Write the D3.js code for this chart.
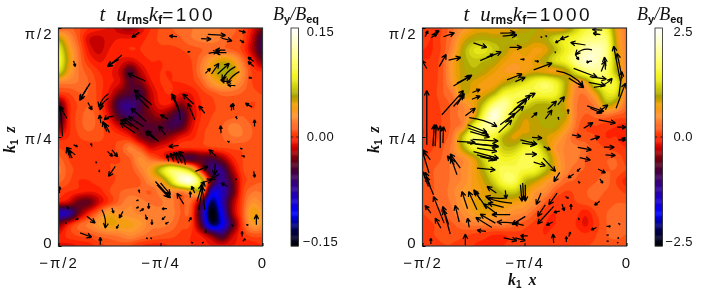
<!DOCTYPE html>
<html>
<head>
<meta charset="utf-8">
<script src="https://cdn.jsdelivr.net/npm/d3@7"></script>
<style>
  html, body { margin: 0; padding: 0; background: #fff; }
  svg { display: block; filter: blur(0.25px); }
  text { font-family: "Liberation Sans", sans-serif; fill: #111; }
  .it { font-family: "Liberation Serif", serif; font-style: italic; }
  .sub { font-family: "Liberation Sans", sans-serif; font-weight: bold; }
</style>
</head>
<body>
<svg id="chart" width="727" height="290"></svg>
<script>
// axis positions are percent of the axis span, so 50 is pi/4
const xTickValues = [0, 50, 100];
const xTickLabels = ['\u2212\u03c0/2', '\u2212\u03c0/4', '0'];
const zTickValues = [0, 50, 100];
const zTickLabels = ['0', '\u03c0/4', '\u03c0/2'];

const earlyTime = '100';
const lateTime = '1000';
const earlyLimit = 0.15;
const lateLimit = 2.5;
const earlyBarLabels = ['\u22120.15', '0.00', '0.15'];
const lateBarLabels = ['\u22122.5', '0.0', '2.5'];

// B_y on a 21x21 lattice, percent of the colour bar limit, top row first
const fieldEarly = [
  [8,10,5,0,-3,-5,-12,-15,-8,0,5,8,10,12,15,15,12,10,5,-5,-20],
  [38,20,6,-8,-10,-6,-4,-4,-2,2,5,6,8,12,14,15,12,8,5,-10,-35],
  [55,28,10,-5,-10,-4,-2,0,0,2,3,3,4,6,8,10,10,8,3,-12,-35],
  [60,32,12,0,-5,-2,-5,-8,-3,0,0,2,3,4,12,24,32,28,12,-2,-20],
  [50,26,12,6,0,-3,-10,-28,-12,-2,0,0,2,3,14,28,40,38,18,3,0],
  [15,14,12,8,2,-3,-8,-25,-20,-6,0,0,0,2,8,20,28,24,14,4,3],
  [2,4,8,8,2,-6,-20,-28,-32,-12,-2,0,-5,-4,2,6,10,10,8,5,4],
  [-25,-2,5,8,2,-12,-38,-42,-32,-14,-4,-5,-18,-8,0,3,6,6,5,4,5],
  [-35,-3,6,10,5,-8,-30,-38,-28,-20,-14,-25,-35,-12,0,4,5,6,8,5,5],
  [-22,-2,6,10,6,0,-10,-20,-25,-26,-26,-33,-28,-8,2,5,8,14,12,8,5],
  [-3,0,4,6,5,3,2,-3,-18,-25,-22,-15,-6,-2,3,6,8,12,12,8,5],
  [4,2,2,2,3,3,6,14,6,-8,-5,-2,0,0,1,3,4,5,5,5,5],
  [10,4,2,2,3,4,4,8,18,10,3,-8,-25,-30,-25,-30,-18,-3,4,6,6],
  [14,6,3,2,3,4,5,6,14,25,45,65,60,38,-5,-40,-42,-14,3,8,8],
  [10,5,0,0,2,3,5,5,8,18,25,50,85,92,45,-20,-45,-25,0,6,8],
  [2,0,-2,-4,-2,4,8,10,10,8,15,18,14,25,30,-55,-55,-28,2,12,12],
  [-6,-10,-22,-22,-8,2,10,16,14,12,12,14,8,8,-25,-85,-55,-18,4,20,16],
  [-55,-50,-20,-2,12,25,20,18,16,14,14,15,8,5,-40,-100,-65,-18,5,28,22],
  [-20,-4,8,14,22,30,28,26,22,14,14,12,6,3,-30,-85,-70,-30,2,22,20],
  [-4,2,5,6,10,12,14,18,14,10,8,6,3,0,-5,-20,-35,-12,0,6,6],
  [-5,-6,-4,-2,2,5,6,4,0,-2,-2,0,0,0,-2,-4,-6,-4,-4,-3,0]
];

const fieldLate = [
  [3,0,5,12,20,28,30,28,28,30,35,38,32,28,30,45,60,65,60,28,14],
  [2,0,6,14,30,38,40,38,38,42,40,36,38,48,55,60,70,72,70,32,14],
  [0,0,6,18,38,50,52,45,38,30,32,28,30,42,55,66,82,85,75,35,15],
  [0,1,8,24,38,44,42,38,30,26,28,30,38,50,58,75,88,85,72,38,15],
  [0,2,8,25,36,40,36,30,25,24,28,32,30,28,34,52,68,75,68,40,16],
  [0,2,8,22,36,32,28,26,34,42,50,60,66,58,40,22,28,55,62,55,18],
  [0,2,8,14,34,30,30,40,58,62,65,60,62,58,38,16,14,30,52,50,12],
  [0,1,6,10,18,28,45,70,78,60,50,42,40,42,32,14,10,16,38,30,10],
  [0,1,5,10,16,26,62,92,72,50,36,38,38,38,36,14,8,10,12,8,6],
  [0,1,5,10,18,55,75,78,62,40,32,36,38,38,28,12,4,4,2,0,-2],
  [0,2,6,14,45,68,62,58,40,32,36,36,34,28,18,8,6,4,0,0,-2],
  [2,4,8,16,38,58,62,58,44,44,56,58,40,22,16,14,10,6,4,2,0],
  [3,6,9,14,18,30,48,60,56,58,66,62,50,28,16,14,8,6,8,8,2],
  [4,8,10,14,18,26,40,58,65,64,62,58,44,28,16,10,8,6,8,8,4],
  [4,8,10,14,18,26,34,48,65,66,44,36,26,18,10,8,6,8,10,4,-2],
  [4,8,10,16,22,26,30,36,44,46,34,22,18,8,4,5,8,10,8,6,3],
  [4,8,10,14,22,28,34,32,30,28,24,18,8,2,4,4,6,8,6,8,8],
  [4,6,8,12,18,24,30,26,22,18,16,8,2,0,4,2,-3,4,8,12,10],
  [3,4,6,8,12,14,14,14,14,10,6,3,0,0,4,0,-5,2,8,12,12],
  [3,4,5,5,5,3,2,0,0,2,3,2,0,2,4,3,1,4,8,10,8],
  [3,3,4,4,3,0,-1,-2,0,2,2,0,2,3,4,4,4,5,6,6,5]
];

// flow arrows: x, z, u, w and an optional bend, all in percent of the axis span
const arrowsEarly = [
  [39.6,98,-3.6,-2.3],[58.1,96,-3.8,.3],[73.2,97.1,8.7,-.5],[69.9,95.1,4.9,-.2],[80,95.3,5.1,-1.2],
  [88.4,98.8,3.3,-.8],[88.9,94.5,2,-1.2],[64.6,89.2,-1.3,-.3],[73.6,88.4,4.1,.8],[81.8,89.9,-4.9,0],
  [82.3,88.7,-5.4,0],[78.6,87.6,-.8,2.6],[31.1,87.6,-7,-5.3],[29.5,85.6,-5.4,-3.1],[42.6,75.7,-8.7,3.5],
  [7.4,84.9,.8,-2.6],[15.5,74.7,-5.2,-7.9],[14.2,72.8,-3.6,-5.5],[45.8,64.7,-8.7,6.9],[44.2,63.2,-6.5,6.1],
  [24.5,69.8,-4.6,-6.1,-1.5],[24.5,67.8,-4.1,-5.3,-1.5],[14.4,65.8,2,-3.4],[4.1,58.6,-3.6,5.6],[2,50.2,-1.1,13.7],
  [20.8,56.3,-.7,3.8],[27,59.4,-4.6,-1.5,-1],[23.7,52.5,-2,4.6],[25,52,-2.3,4.3],[43,57.1,-7.5,6.1],
  [41.7,54.8,-7.4,4.6],[39.3,53.3,-7.4,5.3],[37.6,51.8,-7.4,4.6],[36,54.8,-5.7,3.1],[49.1,47.9,-5.7,5],
  [47.5,48.7,-4.9,3.8],[53.7,58.2,-3.8,2],[59.7,57.9,-4.4,11.9,-2],[58.9,62.4,-3.3,6.9],[66.8,57.9,-3.4,7.6],
  [66.3,65,-5.4,4.7],[71.7,60.9,-2.9,3.4],[52.4,51,-3.3,4.1],[72,79.2,2.5,2.3],[75,78.9,3.6,4.9],
  [78,78.9,5.7,4.9],[86.7,82.3,-6.5,-6.1,-1.5],[88.7,80,-6,-5.6,-1.5],[84.3,75,-4.9,1.2],[86.7,73.6,-3.8,.3],
  [94.9,77,-1.6,.3],[95.7,84.6,-2.8,2],[95.7,82.3,-2.8,2.3],[85.9,62.4,-.5,3.1],[84.8,62.1,0,3],
  [94.9,63.7,-3.3,1.8],[87.6,58.2,-.7,1.2],[96.1,54.8,0,3.1],[79.7,51.8,-.3,3.4],[8.2,41.8,-4.4,3.4],
  [5.7,40.3,-1.6,4.6],[6.7,40.3,-1.8,3.4],[7.4,46.4,2,-.8],[16.4,45.6,-.5,1.5],[24,43.4,2.5,-2.3],
  [26.2,44.1,2.8,-3.1],[27.8,36.5,-3.3,-4.6],[.5,24.3,0,3],[21.3,16.6,1.6,-8.4,1.5],[13.9,13.6,4.1,-3.1],
  [31.6,15.9,-1.8,-3.1],[29.5,9.8,-1.1,-1.8],[26.2,17.4,.8,-2.3],[10.6,6,5.7,-2],[20.5,.6,0,3.4],
  [39.8,24.3,-.5,1.5],[38.1,20.8,1.1,.2],[38,17.4,1.3,.5],[44.2,19.7,0,-2.6],[39.8,15.9,2,1.2],
  [42.6,14.4,.8,-2.3],[45.8,12.1,0,-2.3],[47.5,29.6,7.4,-7.6],[48.3,28.1,5.7,-5.8],[50,28.9,4.9,-5.3],
  [58.9,46.1,-4.9,-.5],[54,38.8,-.8,3.1],[56.5,38.8,-1.6,3.8],[58.9,38,-2.5,5],[62.2,37.3,-3.3,6.1,-1.5],
  [60.6,38,-2.9,5],[77.3,41.1,-3.6,3.1],[67.1,34.2,6.2,2.3],[76.8,37.8,-.3,-5.3],[78.9,33,-4.4,-2.6],
  [83,27.3,-3.3,1.5],[68.7,16.6,2.5,13],[71.7,16.6,-1.3,10.7],[67.9,20.5,2.5,7.6],[69.6,28.9,5.7,1.5],
  [64.6,22.3,0,2.7],[61.4,19.2,-3.3,5],[66.8,24.3,-1.6,3.1],[63.8,11.3,1.3,1.8],[53.2,17.1,-2.5,0],
  [52.4,13.6,-1.6,-1.5],[54,11,-1.6,-.9],[82.7,48.2,1.1,-.6],[89,44.9,1.1,-.5],[89.7,41.5,1.6,-.6],
  [95.7,34.2,.5,-2.7],[86.7,31.1,.5,-.8],[84.8,10.1,.8,-1.1],[90,4.4,0,2.3],[90.3,2.1,1.3,1.2],
  [92,9.8,1,-.3],[97,9.8,0,4.6],[72.3,7.5,-.3,-1.5],[65,1.8,.8,-.5],[71.2,1.8,-.8,-.5],
  [42.9,3.7,.8,-.3],[45,3.7,.8,-.3],[8.2,12.1,1.6,.5],[4.1,10.5,-.8,0],[4.1,18.5,.8,-1.5],
  [18.3,38.8,.3,-.8],[20,35,0,-1]
];

const arrowsLate = [
  [1.3,96,1.3,2.7],[4.6,96.8,3.6,2],[4.2,95.5,2.9,1.8],[10.3,96,5.4,1.8],[38.1,97.6,7.4,.3],
  [39.3,96.3,7,.5],[25,93.2,6.5,-2.1],[28.3,85,10.3,4.1],[31.5,86.5,3.3,1.5],[42.7,91.1,6,0],
  [8.2,82.3,3.4,5.6],[12.8,85.3,6,1.2],[15.2,73.4,9,5],[16.9,74.7,6.5,3.1],[9.5,60.2,10.6,11.1],
  [15.2,64,4.9,5.3],[16.9,64.7,3.6,5.3],[24.5,70.4,3.8,1.5],[24.2,67.3,4.1,1.5],[21,59.8,4.9,3.4],
  [2.1,46.4,0,24.9],[2.1,81.4,-2.4,3.8],[22.9,58.9,13.6,-4.1,1.5],[22.1,55.6,9.5,-3.5],[22.5,54,9.8,-3.1],
  [23.4,52.5,9.5,-2.6],[37.3,52,6.5,5.8],[38.1,55.6,7.4,5.3],[40.6,56.6,9,7.6],[42.2,60.2,9,6.9],
  [44.7,62.4,8.2,6.9],[46.3,65.5,9,4.6],[41.4,76.2,7.4,2.7],[45.5,75.4,4.9,2],[54.5,80.8,9,3.1],
  [65.6,80.3,13.1,-6.9,3],[71.7,77,7.4,-4.3],[74.1,81.5,11.5,-4.1],[82,77.7,8.2,-1.2],[84,72.8,9,4.1,-2],
  [81.5,75.1,8.2,-1.5],[94.9,63.2,4.6,11.5],[97,75.7,-3.3,16],[97.9,76.9,-2.5,11.5],[96.2,68.5,1.6,11.5],
  [79.9,92.2,-7.4,1.1],[88.1,99,-4.9,.3],[87.2,97,-3.6,.6],[71.6,96.3,-4.1,-1.5],[67.6,94.5,-2.5,-1.2],
  [57.8,96,.8,-.3],[60.2,96.5,.8,-.4],[65.1,88.4,0,.8],[48,85.6,2,0],[55,84.9,2,-.3],
  [83.1,90,-8.2,-2.3,-2.5],[75,87.7,1.6,-2.3],[83.1,84.7,-2.5,-.8,-1],[89.7,80.9,-.5,5.8],[87.6,80,2.1,5],
  [80.7,64.3,8.2,-2.6],[82.3,63.2,5.7,-2.3],[85.3,60.9,5.6,3.8],[86.4,57.9,8.2,-1.5],[79,54,4.6,2.6],
  [60.2,58.3,3.3,4.1],[66.3,64.7,3.3,3.8],[61.4,62.7,4.3,3.8],[53.4,58.9,2.8,2.3],[66.8,57.9,-.3,1.2],
  [71.4,60.6,0,2.1],[95.4,54.5,4.4,0],[97.5,49.5,2,0],[96,48.7,3.6,0],[48,48.7,8.2,-2],
  [48.8,47.2,6.5,-.8],[53.7,49.8,4.9,-.3],[50.4,42.1,5.7,0],[54.5,38.5,5.7,-1.7],[59.1,40.3,6.1,-6.1],
  [59.4,45.6,3.3,-1.5],[73.3,51,4.4,-.8],[82.3,48.7,4.6,1.5],[76.1,45.2,6.7,-1.1],[77.1,40.5,5.2,-1.1],
  [88.9,45.3,5.2,0],[89.7,41.8,4.9,-.3],[86.1,35.3,3.6,-1.8],[86.9,30.8,1.5,-2],[67.3,33.8,-2.9,-4.3],
  [74.1,33,-2.8,-1.8],[77.4,35.7,-1.6,-1.5],[76.3,29.8,.8,-1],[58.1,24.3,-2.3,-5.3],[66,24.3,-4.1,-5.3],
  [60.2,18.9,-3.8,-5.3],[64.3,18.2,-7.9,-8.1],[70,22.7,1.6,-.8],[68.4,19.2,1.1,-3.1],[67.3,16,-2.9,-.6],
  [72.8,16.6,0,2.6],[86.9,20.5,-2.6,-1.8],[76.4,13,.4,-1],[63.8,11,-3.1,-1.5],[85.3,8.5,-2.6,-1.1],
  [90.2,9,2,0],[96,10.5,.8,-.7],[90.2,5,1,0],[90.2,2.2,1,0],[95.5,3.5,.8,.3],
  [96,1.8,-.5,-.5],[64.3,1.4,-.3,4.1],[70.5,1.8,0,2.6],[71.7,4.4,.8,2],[51.6,4.7,-3.6,0],
  [5.1,45.8,.7,9.9],[6.2,45.8,.5,9.9],[8.7,44.9,0,10.2],[10,47.2,.3,7.6],[3.2,33.5,-3.2,9.9],
  [2.9,27.3,-2.9,6.9],[3.8,27.3,-2.5,6.6],[5.4,23.5,-3.8,8.4],[3.8,39.5,-3.6,4.6],[4.1,15.1,-2.8,3.5],
  [9,8.2,-2.8,4.6],[10.6,10.5,-5.2,12.2],[13.6,5.5,-3.3,11.1],[12.8,9.8,-2.9,8.4],[18,11,-2,7.6],
  [4.1,.9,0,2.7],[21,.3,0,5.2],[22.9,8.5,-.8,4.3],[22.1,17.1,-2.8,7.9],[26.7,16.6,-4.1,8.4],
  [31.6,17.1,-6.5,8.7],[28.3,21.2,-2.5,3.8],[36.2,24.3,-4.6,3],[40.6,22,-9.8,.8,1],[40.6,25.5,.4,-3.8],
  [43.9,19.7,-11.8,2.3,1],[39.8,17.7,-7.7,2],[36.5,14.7,-6.5,4.6],[43,14.4,-9,0],[35.7,10.5,-7.4,4.1],
  [34,8.5,-7.9,4.6],[31.1,6.7,-4.4,.5],[47.1,10.5,-10.6,.5],[50.4,13.6,-6.5,-3.8],[49.6,9.5,-4.9,1.1],
  [39.8,3.7,6.5,-1.2],[45.5,3.7,4.9,-1.2],[49.1,28.9,.5,-7.6],[48,28.1,.8,-7.6],[50.4,28.1,0,-7.6],
  [16.9,48,9,-.5],[21.8,47.3,14.7,-1.5],[24.5,48.9,12.6,-.8],[25.9,46.7,11.5,-1.1],[26.7,44.9,9.8,-1.5],
  [25,43.3,12.3,-3.1],[26.7,41.8,9.8,-2.3],[28.3,41,6.5,-1.5],[26.7,35.7,9,-.8],[18.5,35.7,-4.9,6.6],
  [15.6,37.3,-3.4,4.1],[16.9,32.7,-2.9,7.6]
];

// colour table of the bar, stops given in percent of the limit
const colorStops = [-100,-85,-70,-55,-42,-30,-20,-10,-2,5,13,22,30,38,46,56,70,85,100];
const colorValues = ['#000000','#000050','#0000ff','#2000c0','#380080','#480038','#700010','#c80000',
  '#ff2000','#ff4a10','#ff7a30','#ff9a30','#f0a000','#a8a000','#d0d010','#f4f420','#ffff70','#ffffc0','#ffffff'];

const svg = d3.select('#chart');
const plotW = 204, plotH = 218, plotTop = 28;
const color = d3.scaleLinear().domain(colorStops).range(colorValues).clamp(true);
const x = d3.scaleLinear().domain([0, 100]).range([0, plotW]);
const z = d3.scaleLinear().domain([0, 100]).range([plotH, 0]);

// Catmull-Rom, the lattice is too coarse to contour as it stands
function cubic(a, b, c, d, t) {
  return 0.5 * (2 * b + (c - a) * t + (2 * a - 5 * b + 4 * c - d) * t * t + (3 * b - a - 3 * c + d) * t * t * t);
}

function upsample(rows, factor) {
  const nr = rows.length, nc = rows[0].length;
  const w = (nc - 1) * factor + 1, h = (nr - 1) * factor + 1;
  const at = (r, c) => rows[Math.max(0, Math.min(nr - 1, r))][Math.max(0, Math.min(nc - 1, c))];
  const values = new Array(w * h);
  for (let j = 0; j < h; j++) {
    const r = Math.min(Math.floor(j / factor), nr - 2), tr = j / factor - r;
    for (let i = 0; i < w; i++) {
      const c = Math.min(Math.floor(i / factor), nc - 2), tc = i / factor - c;
      const col = [-1, 0, 1, 2].map(k =>
        cubic(at(r + k, c - 1), at(r + k, c), at(r + k, c + 1), at(r + k, c + 2), tc));
      values[j * w + i] = Math.max(-100, Math.min(100, cubic(col[0], col[1], col[2], col[3], tr)));
    }
  }
  return { values, w, h };
}

function drawField(g, rows, clipId) {
  const grid = upsample(rows, 6);
  const step = 200 / 48;
  const levels = d3.range(-100, 100, step);
  const contours = d3.contours().size([grid.w, grid.h]).thresholds(levels)(grid.values);
  const path = d3.geoPath(d3.geoTransform({
    point(px, py) {
      this.stream.point(x((px - 0.5) / (grid.w - 1) * 100), z(100 - (py - 0.5) / (grid.h - 1) * 100));
    }
  }));
  g.append('clipPath').attr('id', clipId)
    .append('rect').attr('width', plotW).attr('height', plotH);
  g.append('g').attr('clip-path', `url(#${clipId})`)
    .selectAll('path').data(contours).join('path')
    .attr('d', path)
    .attr('fill', d => color(d.value + step / 2))
    .attr('stroke', d => color(d.value + step / 2))
    .attr('stroke-width', 0.3);
}

function arrowPath(a) {
  const x0 = x(a[0]), y0 = z(a[1]), x1 = x(a[0] + a[2]), y1 = z(a[1] + a[3]);
  const dx = x1 - x0, dy = y1 - y0, len = Math.hypot(dx, dy) || 1;
  const bend = (a[4] || 0) * plotW / 100;
  const cx = (x0 + x1) / 2 + bend * dy / len, cy = (y0 + y1) / 2 - bend * dx / len;
  const p = d3.path();
  p.moveTo(x0, y0);
  p.quadraticCurveTo(cx, cy, x1, y1);
  // head follows the end of the curve
  const ang = Math.atan2(y1 - cy, x1 - cx);
  const hl = Math.min(5.5, 0.5 * len);
  [-0.45, 0.45].forEach(s => {
    p.moveTo(x1, y1);
    p.lineTo(x1 - hl * Math.cos(ang + s), y1 - hl * Math.sin(ang + s));
  });
  return p.toString();
}

function drawPanel(opts) {
  const g = svg.append('g').attr('transform', `translate(${opts.left},${plotTop})`);
  drawField(g, opts.field, opts.id);

  g.append('g').attr('clip-path', `url(#${opts.id})`)
    .selectAll('path').data(opts.arrows).join('path')
    .attr('d', arrowPath)
    .attr('fill', 'none')
    .attr('stroke', '#000')
    .attr('stroke-width', 1.25);

  g.append('rect').attr('width', plotW).attr('height', plotH)
    .attr('fill', 'none').attr('stroke', '#333').attr('stroke-width', 1.2);

  const bottom = g.append('g').attr('transform', `translate(0,${plotH})`)
    .call(d3.axisBottom(x).tickValues(xTickValues).tickFormat((d, i) => xTickLabels[i]).tickSize(-3));
  bottom.select('.domain').remove();
  bottom.selectAll('text').attr('y', 22).attr('dy', 0)
    .attr('font-size', 15).attr('letter-spacing', 2).attr('text-anchor', 'middle');

  const side = g.append('g')
    .call(d3.axisLeft(z).tickValues(zTickValues).tickFormat((d, i) => zTickLabels[i]).tickSize(-3));
  side.select('.domain').remove();
  side.selectAll('text').attr('x', -5).attr('dy', 0)
    .attr('y', d => d === 0 ? 1 : d === 50 ? 6 : 10)
    .attr('font-size', 15).attr('letter-spacing', 2).attr('text-anchor', 'end');

  // title: t u_rms k_f = value
  const title = svg.append('text').attr('x', opts.left + 41).attr('y', 20.5).attr('font-size', 21);
  title.append('tspan').attr('class', 'it').text('t');
  title.append('tspan').attr('class', 'it').attr('dx', 11).text('u');
  title.append('tspan').attr('class', 'sub').attr('font-size', 12).attr('dy', 3).text('rms');
  title.append('tspan').attr('class', 'it').attr('dy', -3).text('k');
  title.append('tspan').attr('class', 'sub').attr('font-size', 12).attr('dy', 3).text('f');
  title.append('tspan').attr('dy', -3).attr('font-size', 19).attr('letter-spacing', 2.5).text('=' + opts.time);

  // k1 z on the side
  const zLabel = svg.append('text')
    .attr('transform', `translate(${opts.left - 44},153) rotate(-90)`)
    .attr('font-size', 16).attr('font-weight', 'bold');
  zLabel.append('tspan').attr('class', 'it').text('k');
  zLabel.append('tspan').attr('class', 'sub').attr('font-size', 10).attr('dy', 3).text('1');
  zLabel.append('tspan').attr('class', 'it').attr('dy', -3).attr('dx', 7).text('z');

  // colour bar
  const barScale = d3.scaleLinear().domain([-opts.limit, opts.limit]).range([plotH, 0]);
  const bar = svg.append('g').attr('transform', `translate(${opts.barLeft},${plotTop})`);
  const barSteps = d3.range(-100, 100, 1);
  bar.selectAll('rect').data(barSteps).join('rect')
    .attr('x', 0).attr('width', 7.5)
    .attr('y', d => barScale((d + 1) / 100 * opts.limit))
    .attr('height', plotH / barSteps.length + 0.4)
    .attr('fill', d => color(d + 0.5));
  bar.append('rect').attr('width', 7.5).attr('height', plotH)
    .attr('fill', 'none').attr('stroke', '#222').attr('stroke-width', 0.8);
  bar.append('line').attr('x1', 0).attr('x2', 2)
    .attr('y1', barScale(0)).attr('y2', barScale(0)).attr('stroke', '#222');
  bar.append('line').attr('x1', 5.5).attr('x2', 7.5)
    .attr('y1', barScale(0)).attr('y2', barScale(0)).attr('stroke', '#222');

  [-1, 0, 1].forEach((s, i) => {
    bar.append('text')
      .attr('x', opts.barTextX)
      .attr('y', barScale(s * opts.limit) + [0, 4, 8][i])
      .attr('text-anchor', opts.barAnchor)
      .attr('font-size', 13)
      .attr('letter-spacing', 0.5)
      .text(opts.barLabels[i]);
  });

  const barTitle = svg.append('text').attr('x', opts.barLeft - 18).attr('y', 20).attr('font-size', 18);
  barTitle.append('tspan').attr('class', 'it').text('B');
  barTitle.append('tspan').attr('class', 'sub').attr('font-size', 11).attr('dy', 3).text('y');
  barTitle.append('tspan').attr('class', 'it').attr('dy', -3).text('/B');
  barTitle.append('tspan').attr('class', 'sub').attr('font-size', 11).attr('dy', 3).text('eq');
}

drawPanel({ id: 'clip-early', left: 58.5, field: fieldEarly, arrows: arrowsEarly, time: earlyTime,
  limit: earlyLimit, barLabels: earlyBarLabels, barLeft: 291, barTextX: 29.5, barAnchor: 'middle' });
drawPanel({ id: 'clip-late', left: 422.5, field: fieldLate, arrows: arrowsLate, time: lateTime,
  limit: lateLimit, barLabels: lateBarLabels, barLeft: 655, barTextX: 38, barAnchor: 'end' });

const xLabel = svg.append('text').attr('x', 508).attr('y', 285).attr('font-size', 16).attr('font-weight', 'bold');
xLabel.append('tspan').attr('class', 'it').text('k');
xLabel.append('tspan').attr('class', 'sub').attr('font-size', 10).attr('dy', 3).text('1');
xLabel.append('tspan').attr('class', 'it').attr('dy', -3).attr('dx', 7).text('x');
</script>
</body>
</html>
